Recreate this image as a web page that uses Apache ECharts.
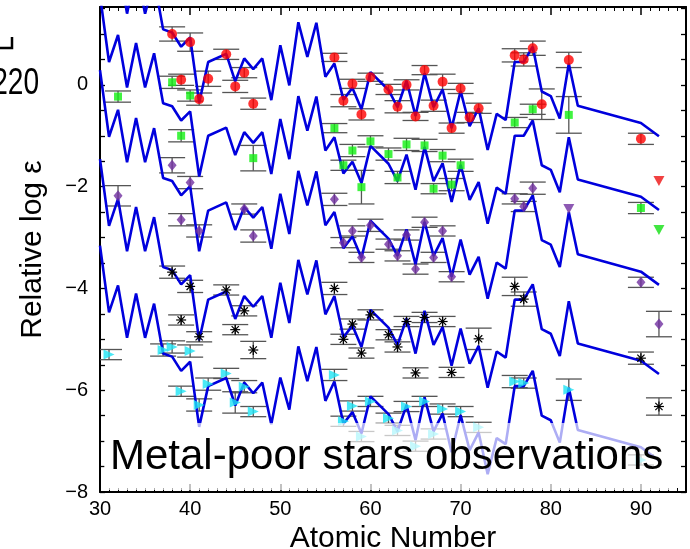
<!DOCTYPE html>
<html><head><meta charset="utf-8">
<script src="https://cdn.jsdelivr.net/npm/echarts@6/dist/echarts.min.js"></script>
<style>html,body{margin:0;padding:0;background:#fff}#c{width:690px;height:549px}</style>
</head><body><div id="c"></div>
<script>
// Atomic numbers of the model pattern vertices
const modelZ = [30,31,32,33,34,35,36,37,38,39,40,41,42,44,45,46,47,48,49,50,51,52,53,54,55,56,57,58,59,60,62,63,64,65,66,67,68,69,70,71,72,73,74,75,76,77,78,79,80,81,82,83,90,92];
// Model curves (one per star, shifted vertically)
const model1 = [3.21,1.90,2.43,1.40,2.27,1.40,2.07,1.09,1.03,0.75,0.93,-0.35,0.45,0.61,0.07,0.52,0.31,0.52,-0.30,0.78,-0.01,1.23,0.55,1.22,0.16,0.42,-0.29,-0.06,-0.48,0.25,-0.10,-0.44,0.08,-0.61,0.23,-0.44,-0.09,-0.85,-0.12,-0.81,-0.46,-1.28,-0.57,-0.69,0.45,0.45,0.75,-0.13,-0.22,-0.66,0.42,-0.41,-0.75,-1.01];
const model2 = [1.76,0.45,0.98,-0.05,0.82,-0.05,0.62,-0.36,-0.42,-0.70,-0.52,-1.80,-1.00,-0.84,-1.38,-0.93,-1.14,-0.93,-1.75,-0.67,-1.46,-0.22,-0.90,-0.23,-1.29,-1.03,-1.74,-1.51,-1.93,-1.20,-1.55,-1.89,-1.37,-2.06,-1.22,-1.89,-1.54,-2.30,-1.57,-2.26,-1.91,-2.73,-2.02,-2.14,-1.00,-1.00,-0.70,-1.58,-1.67,-2.11,-1.03,-1.86,-2.20,-2.46];
const model3 = [0.29,-1.02,-0.49,-1.52,-0.65,-1.52,-0.85,-1.83,-1.89,-2.17,-1.99,-3.27,-2.47,-2.31,-2.85,-2.40,-2.61,-2.40,-3.22,-2.14,-2.93,-1.69,-2.37,-1.70,-2.76,-2.50,-3.21,-2.98,-3.40,-2.67,-3.02,-3.36,-2.84,-3.53,-2.69,-3.36,-3.01,-3.77,-3.04,-3.73,-3.38,-4.20,-3.49,-3.61,-2.47,-2.47,-2.17,-3.05,-3.14,-3.58,-2.50,-3.33,-3.67,-3.93];
const model4 = [-1.46,-2.77,-2.24,-3.27,-2.40,-3.27,-2.60,-3.58,-3.64,-3.92,-3.74,-5.02,-4.22,-4.06,-4.60,-4.15,-4.36,-4.15,-4.97,-3.89,-4.68,-3.44,-4.12,-3.45,-4.51,-4.15,-4.96,-4.73,-5.15,-4.42,-4.77,-5.11,-4.59,-5.28,-4.44,-5.11,-4.76,-5.52,-4.79,-5.48,-5.13,-5.95,-5.24,-5.36,-4.22,-4.22,-3.92,-4.80,-4.89,-5.33,-4.25,-5.08,-5.42,-5.68];
const model5 = [-3.16,-4.47,-3.94,-4.97,-4.10,-4.97,-4.30,-5.28,-5.34,-5.62,-5.44,-6.72,-5.92,-5.76,-6.30,-5.85,-6.06,-5.85,-6.67,-5.75,-6.38,-5.14,-5.82,-5.15,-6.21,-5.83,-6.66,-6.43,-6.85,-6.12,-6.47,-6.81,-6.29,-6.98,-6.14,-6.81,-6.46,-7.22,-6.49,-7.18,-6.83,-7.65,-6.94,-7.06,-5.92,-5.92,-5.62,-6.50,-6.59,-7.03,-5.95,-6.78,-7.12,-7.38];

// Observations: [Z, relative log eps, error]
const obsRed = [[38,1.00,0.14],[39,0.10,0.11],[40,0.84,0.18],[41,-0.28,0.12],[42,0.12,0.15],[44,0.60,0.10],[45,-0.03,0.12],[46,0.24,0.10],[47,-0.37,0.11],[56,0.54,0.08],[57,-0.31,0.12],[58,0.02,0.09],[59,-0.58,0.11],[60,0.15,0.08],[62,-0.09,0.10],[63,-0.43,0.12],[64,0.00,0.10],[65,-0.62,0.08],[66,0.29,0.09],[67,-0.41,0.11],[68,0.06,0.15],[69,-0.85,0.10],[70,-0.07,0.10],[71,-0.64,0.10],[72,-0.46,0.10],[76,0.58,0.13],[77,0.50,0.13],[78,0.72,0.14],[79,-0.38,0.30],[82,0.49,0.15],[90,-1.06,0.11]];
const obsGreen = [[32,-0.23,0.11],[38,0.05,0.12],[39,-1.00,0.12],[40,-0.21,0.11],[47,-1.44,0.25],[56,-0.85,0.09],[57,-1.58,0.10],[58,-1.29,0.12],[59,-2.01,0.33],[60,-1.11,0.11],[62,-1.36,0.12],[63,-1.82,0.12],[64,-1.17,0.12],[66,-1.19,0.12],[67,-2.04,0.10],[68,-1.39,0.12],[69,-1.96,0.12],[70,-1.58,0.12],[76,-0.74,0.10],[78,-0.48,0.10],[82,-0.59,0.36],[90,-2.42,0.11]];
const obsPurple = [[32,-2.18,0.20],[38,-1.58,0.15],[39,-2.65,0.12],[40,-1.92,0.12],[41,-2.87,0.12],[46,-2.44,0.10],[47,-2.97,0.12],[56,-2.25,0.12],[57,-3.10,0.10],[58,-2.87,0.10],[59,-3.39,0.10],[60,-2.76,0.12],[62,-3.13,0.10],[63,-3.36,0.10],[64,-2.95,0.10],[65,-3.62,0.10],[66,-2.70,0.10],[67,-3.39,0.10],[68,-2.87,0.10],[69,-3.77,0.10],[76,-2.24,0.10],[77,-2.39,0.10],[78,-2.03,0.12],[90,-3.88,0.10],[92,-4.70,0.25]];
const obsBlack = [[38,-3.68,0.12],[39,-4.62,0.10],[40,-3.96,0.12],[41,-4.95,0.10],[44,-4.03,0.10],[45,-4.81,0.10],[46,-4.44,0.10],[47,-5.21,0.17],[56,-4.00,0.12],[57,-5.00,0.10],[58,-4.70,0.10],[59,-5.27,0.10],[60,-4.52,0.10],[62,-4.91,0.10],[63,-5.15,0.10],[64,-4.65,0.10],[65,-5.66,0.10],[66,-4.57,0.10],[68,-4.65,0.10],[69,-5.65,0.10],[72,-4.99,0.21],[76,-3.96,0.18],[77,-4.21,0.14],[90,-5.37,0.12],[92,-6.32,0.17]];
const obsCyan = [[31,-5.30,0.10],[37,-5.21,0.12],[38,-5.15,0.12],[39,-6.02,0.10],[40,-5.23,0.12],[41,-6.29,0.12],[42,-5.88,0.12],[44,-5.67,0.10],[45,-6.24,0.21],[46,-5.93,0.12],[47,-6.42,0.10],[56,-5.70,0.11],[57,-6.61,0.10],[58,-6.31,0.10],[59,-6.91,0.10],[60,-6.22,0.10],[62,-6.55,0.10],[63,-6.79,0.10],[64,-6.32,0.10],[65,-7.10,0.10],[66,-6.22,0.10],[67,-6.86,0.10],[68,-6.37,0.10],[70,-6.42,0.10],[72,-6.73,0.10],[76,-5.83,0.12],[77,-5.86,0.10],[82,-5.99,0.21],[90,-7.37,0.10]];
// Upper limits: [Z, value]
const limRed = [[92,-1.89]];
const limGreen = [[92,-2.85]];
const limPurple = [[82,-2.44]];

const xTickLabels = [30,40,50,60,70,80,90];
const yTickLabels = [-8,-6,-4,-2,0];

const FONT = '"Liberation Sans", Arial, Helvetica, sans-serif';
const chart = echarts.init(document.getElementById('c'), null, {renderer:'canvas'});

function pairs(z, v){ return z.map((zz,i)=>[zz, v[i]]); }

function errSeries(data){
  return {
    type:'custom', z:1, silent:true, clip:true,
    encode:{x:0, y:[1,2]},
    data: data.map(d=>[d[0], d[1]-d[2], d[1]+d[2]]),
    renderItem(params, api){
      const x = api.value(0);
      const lo = api.coord([x, api.value(1)]);
      const hi = api.coord([x, api.value(2)]);
      const w = 13;
      const st = {stroke:'#555', lineWidth:1.3};
      return {type:'group', children:[
        {type:'line', shape:{x1:lo[0],y1:lo[1],x2:hi[0],y2:hi[1]}, style:st},
        {type:'line', shape:{x1:lo[0]-w,y1:lo[1],x2:lo[0]+w,y2:lo[1]}, style:st},
        {type:'line', shape:{x1:hi[0]-w,y1:hi[1],x2:hi[0]+w,y2:hi[1]}, style:st}
      ]};
    }
  };
}

function modelSeries(vals){
  return {type:'line', z:2, silent:true, showSymbol:false, symbol:'none', clip:true,
    data: pairs(modelZ, vals), lineStyle:{color:'#0000dd', width:2.6}};
}

const asteriskSeries = {
  type:'custom', z:3, silent:true, clip:true,
  encode:{x:0, y:1},
  data: obsBlack.map(d=>[d[0], d[1]]),
  renderItem(params, api){
    const p = api.coord([api.value(0), api.value(1)]);
    const r = 5, d = 3.6;
    const st = {stroke:'#000', lineWidth:1.2};
    return {type:'group', children:[
      {type:'line', shape:{x1:p[0]-r,y1:p[1],x2:p[0]+r,y2:p[1]}, style:st},
      {type:'line', shape:{x1:p[0],y1:p[1]-r,x2:p[0],y2:p[1]+r}, style:st},
      {type:'line', shape:{x1:p[0]-d,y1:p[1]-d,x2:p[0]+d,y2:p[1]+d}, style:st},
      {type:'line', shape:{x1:p[0]-d,y1:p[1]+d,x2:p[0]+d,y2:p[1]-d}, style:st},
      {type:'circle', shape:{cx:p[0], cy:p[1], r:1.4}, style:{fill:'#000'}}
    ]};
  }
};

function fmtY(v){
  if (Math.abs(v) < 1e-9) return '0';
  if (yTickLabels.some(t=>Math.abs(t-v)<1e-9)) return (v<0?'\u2212':'') + Math.abs(v);
  return '';
}
function fmtX(v){
  return xTickLabels.some(t=>Math.abs(t-v)<1e-9) ? String(v) : '';
}

const axisLineStyle = {color:'#000', width:2};
const option = {
  animation:false,
  backgroundColor:'#fff',
  grid:{left:100, right:4, top:7, bottom:57, containLabel:false, outerBoundsMode:'none'},
  xAxis:[
    {type:'value', min:30, max:95, interval:10, position:'bottom',
     name:'Atomic Number', nameLocation:'middle', nameGap:20,
     nameTextStyle:{fontSize:30, fontFamily:FONT, color:'#000'},
     axisLine:{show:true, onZero:false, lineStyle:axisLineStyle},
     axisTick:{show:true, inside:true, length:8, lineStyle:{color:'#000', width:1.5}},
     minorTick:{show:true, splitNumber:10, length:4, lineStyle:{color:'#000', width:1}},
     splitLine:{show:false}, minorSplitLine:{show:false},
     axisLabel:{show:true, margin:7, fontSize:20, fontFamily:FONT, color:'#000', formatter:fmtX}},
    {type:'value', min:30, max:95, interval:10, position:'top',
     axisLine:{show:true, onZero:false, lineStyle:axisLineStyle},
     axisTick:{show:true, inside:true, length:8, lineStyle:{color:'#000', width:1.5}},
     minorTick:{show:true, splitNumber:10, length:4, lineStyle:{color:'#000', width:1}},
     splitLine:{show:false}, axisLabel:{show:false}}
  ],
  yAxis:[
    {type:'value', min:-8, max:1.53, interval:0.5, position:'left',
     name:'Relative log \u03b5', nameLocation:'middle', nameGap:52, nameRotate:90,
     nameTextStyle:{fontSize:30, fontFamily:FONT, color:'#000'},
     axisLine:{show:true, onZero:false, lineStyle:axisLineStyle},
     axisTick:{show:true, inside:true, length:5, lineStyle:{color:'#000', width:1.3}},
     splitLine:{show:false},
     axisLabel:{show:true, margin:12, fontSize:20, fontFamily:FONT, color:'#000', formatter:fmtY}},
    {type:'value', min:-8, max:1.53, interval:0.5, position:'right',
     axisLine:{show:true, onZero:false, lineStyle:axisLineStyle},
     axisTick:{show:true, inside:true, length:5, lineStyle:{color:'#000', width:1.3}},
     splitLine:{show:false}, axisLabel:{show:false}}
  ],
  series:[
    errSeries(obsRed), errSeries(obsGreen), errSeries(obsPurple), errSeries(obsBlack), errSeries(obsCyan),
    modelSeries(model1), modelSeries(model2), modelSeries(model3), modelSeries(model4), modelSeries(model5),
    {type:'scatter', z:3, silent:true, data: obsRed.map(d=>[d[0],d[1]]), symbol:'circle', symbolSize:10, itemStyle:{color:'#ff0000'}},
    {type:'scatter', z:3, silent:true, data: obsGreen.map(d=>[d[0],d[1]]), symbol:'rect', symbolSize:8, itemStyle:{color:'#11f011'}},
    {type:'scatter', z:3, silent:true, data: obsPurple.map(d=>[d[0],d[1]]), symbol:'diamond', symbolSize:[9,11], itemStyle:{color:'#7030a0'}},
    asteriskSeries,
    {type:'scatter', z:3, silent:true, data: obsCyan.map(d=>[d[0],d[1]]), symbol:'triangle', symbolRotate:-90, symbolSize:[10,11], itemStyle:{color:'#1ee4f4'}},
    {type:'scatter', z:3, silent:true, data: limRed, symbol:'triangle', symbolRotate:180, symbolSize:[11,10], itemStyle:{color:'#ee1111'}},
    {type:'scatter', z:3, silent:true, data: limGreen, symbol:'triangle', symbolRotate:180, symbolSize:[11,10], itemStyle:{color:'#11e011'}},
    {type:'scatter', z:3, silent:true, data: limPurple, symbol:'triangle', symbolRotate:180, symbolSize:[11,10], itemStyle:{color:'#7030a0'}}
  ],
  graphic:[
    {type:'rect', z:100, silent:true, shape:{x:104, y:423, width:568, height:67}, style:{fill:'rgba(255,255,255,0.68)'}},
    {type:'text', z:101, silent:true, x:110, y:457, style:{text:'Metal-poor stars observations', font:'42px ' + FONT, fill:'#000', textVerticalAlign:'middle', verticalAlign:'middle'}},
    {type:'text', z:101, silent:true, x:39, y:84, scaleX:0.78, originX:0, originY:0, style:{text:'220', font:'36px ' + FONT, fill:'#000', textAlign:'right', align:'right', textVerticalAlign:'middle', verticalAlign:'middle'}},
    {type:'polyline', z:101, silent:true, shape:{points:[[12,37],[12,48],[0,48]]}, style:{stroke:'#000', lineWidth:2.5, fill:null}}
  ]
};
chart.setOption(option);
</script>
</body></html>
